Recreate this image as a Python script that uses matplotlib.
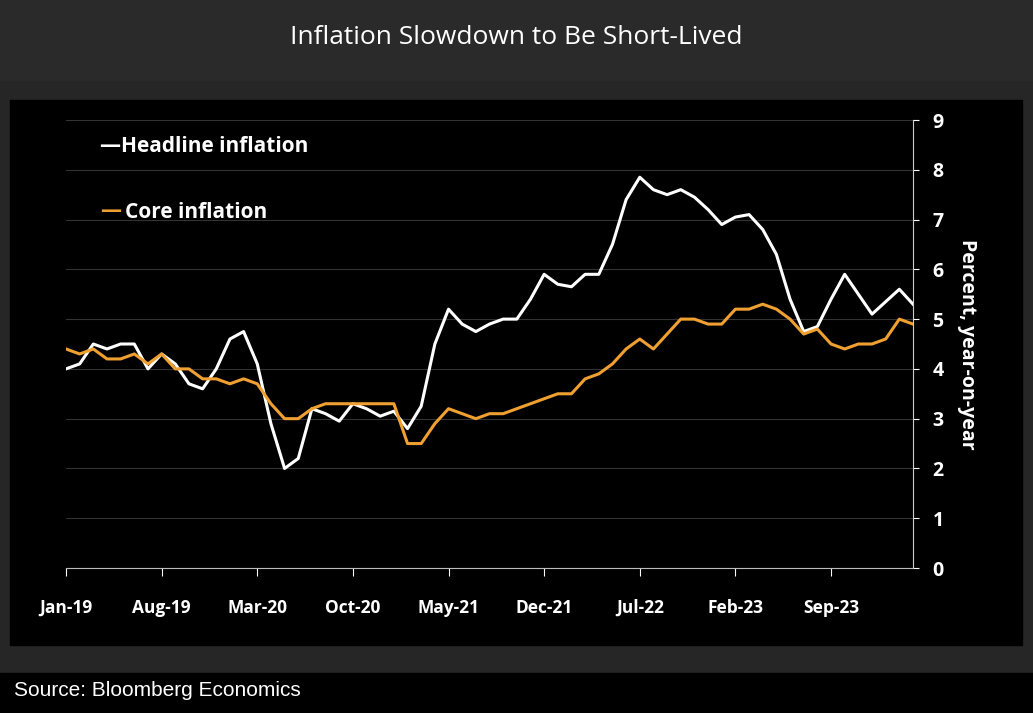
import numpy as np
import pandas as pd
import matplotlib.pyplot as plt
from matplotlib.patches import Rectangle

months = pd.date_range("2019-01-01", periods=63, freq="MS")
headline = [4.0, 4.1, 4.5, 4.4, 4.5, 4.5, 4.0, 4.3, 4.1, 3.7, 3.6, 4.0, 4.6, 4.75, 4.1, 2.9,
            2.0, 2.2, 3.2, 3.1, 2.95, 3.3, 3.2, 3.05, 3.15, 2.8, 3.25, 4.5, 5.2, 4.9, 4.75, 4.9,
            5.0, 5.0, 5.4, 5.9, 5.7, 5.65, 5.9, 5.9, 6.5, 7.4, 7.85, 7.6, 7.5, 7.6, 7.45, 7.2,
            6.9, 7.05, 7.1, 6.8, 6.3, 5.4, 4.75, 4.85, 5.4, 5.9, 5.5, 5.1, 5.35, 5.6, 5.3]
core = [4.4, 4.3, 4.4, 4.2, 4.2, 4.3, 4.1, 4.3, 4.0, 4.0, 3.8, 3.8, 3.7, 3.8, 3.7, 3.3,
        3.0, 3.0, 3.2, 3.3, 3.3, 3.3, 3.3, 3.3, 3.3, 2.5, 2.5, 2.9, 3.2, 3.1, 3.0, 3.1,
        3.1, 3.2, 3.3, 3.4, 3.5, 3.5, 3.8, 3.9, 4.1, 4.4, 4.6, 4.4, 4.7, 5.0, 5.0, 4.9,
        4.9, 5.2, 5.2, 5.3, 5.2, 5.0, 4.7, 4.8, 4.5, 4.4, 4.5, 4.5, 4.6, 5.0, 4.9]
tick_idx = list(range(0, 63, 7))
tick_labels = [months[i].strftime("%b-%y") for i in tick_idx]

plt.rcParams['font.family'] = ['Open Sans', 'DejaVu Sans']
fig = plt.figure(figsize=(10.33, 7.13), dpi=100, facecolor="#262626")
W, H = 1033, 713
def rect(x0, y0, x1, y1, c):
    fig.patches.append(Rectangle((x0 / W, 1 - y1 / H), (x1 - x0) / W, (y1 - y0) / H,
                                 transform=fig.transFigure, color=c, zorder=-10))
rect(0, 0, W, 80, "#2a2a2a")
rect(10, 100, 1022, 645, "#000000")
rect(0, 673, W, H, "#000000")

fig.text(0.5, 1 - 38 / H, "Inflation Slowdown to Be Short-Lived", color="white",
         fontsize=19, ha="center", va="center")
fig.text(14 / W, 1 - 691 / H, "Source: Bloomberg Economics", color="white",
         fontsize=15, ha="left", va="center", family=["Liberation Sans", "DejaVu Sans"])

ax = fig.add_axes([66 / W, 1 - 568 / H, (913 - 66) / W, (568 - 120) / H])
ax.set_zorder(5)
ax.set_facecolor("black")
x = np.arange(len(months))
ax.plot(x, headline, color="white", lw=2.2)
ax.plot(x, core, color="#f0a030", lw=2.2)
ax.set_xlim(0, 62)
ax.set_ylim(0, 9)
ax.yaxis.tick_right()
ax.yaxis.set_label_position("right")
ax.set_yticks(range(10))
ax.grid(axis="y", color="#333333", lw=0.8)
ax.set_axisbelow(True)
for s in ["top", "left"]:
    ax.spines[s].set_visible(False)
ax.spines["bottom"].set_color("#bbbbbb")
ax.spines["right"].set_color("#cccccc")
ax.set_xticks(tick_idx)
ax.set_xticklabels(tick_labels, fontweight="bold")
ax.tick_params(axis="x", colors="white", labelsize=12.5, length=6, pad=16)
ax.tick_params(axis="y", colors="white", labelsize=14, length=4, pad=10)
for t in ax.get_yticklabels():
    t.set_fontweight("bold")
ax.set_ylabel("Percent, year-on-year", color="white", fontsize=14, fontweight="bold",
              rotation=-90, labelpad=24)

fig.text(100 / W, 1 - 147 / H, "\u2014Headline inflation", color="white", fontsize=15,
         fontweight="bold", va="center", zorder=10)
fig.text(100 / W, 1 - 212 / H, "\u2014", color="#f0a030", fontsize=15,
         fontweight="bold", va="center", zorder=10)
fig.text(125 / W, 1 - 212 / H, "Core inflation", color="white", fontsize=15,
         fontweight="bold", va="center", zorder=10)

fig.savefig("out.png", dpi=100, facecolor=fig.get_facecolor())
